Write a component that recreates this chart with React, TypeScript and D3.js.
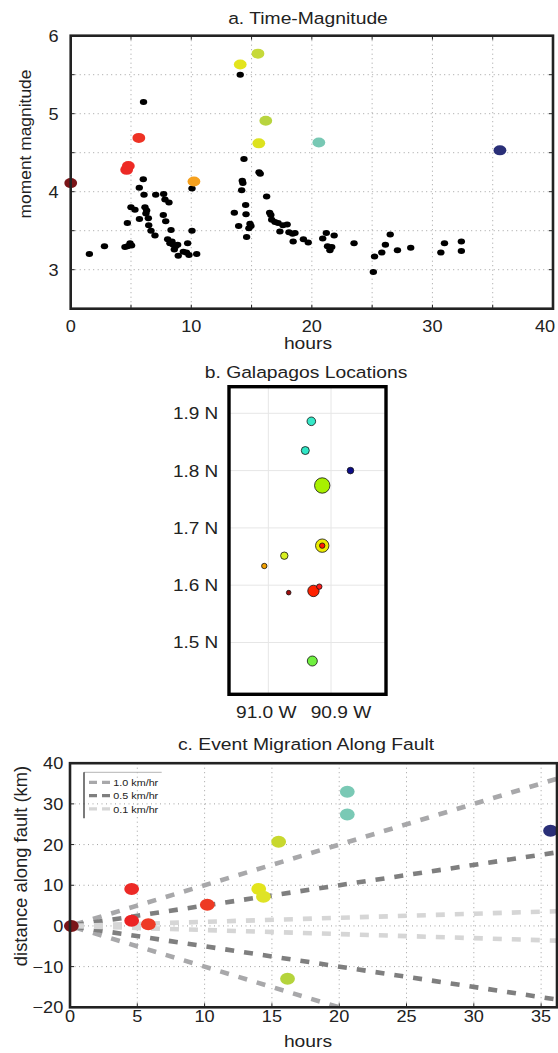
import React from 'react';
import * as d3 from 'd3';

// ---------- Panel a: time vs moment magnitude ----------
const smallEvents: [number, number][] = [
  [1.55, 3.2], [2.8, 3.3], [4.5, 3.29], [4.72, 3.3], [4.92, 3.34], [5.05, 3.31], [4.7, 3.6], [5.0, 3.8],
  [5.33, 3.77], [5.7, 3.65], [5.69, 4.05], [6.02, 4.16], [6.08, 3.96], [6.16, 3.8], [6.24, 3.72], [6.3, 3.76],
  [6.44, 3.66], [6.47, 3.57], [6.66, 3.5], [6.99, 3.44], [7.05, 3.96], [7.68, 3.7], [7.71, 3.97], [7.82, 3.9],
  [7.88, 3.62], [8.15, 3.86], [8.32, 3.51], [8.04, 3.39], [8.23, 3.34], [8.4, 3.36], [8.5, 3.32], [8.59, 3.26],
  [8.7, 3.3], [8.87, 3.32], [8.92, 3.18], [9.34, 3.23], [9.6, 3.22], [9.7, 3.34], [9.81, 3.19], [10.06, 3.5],
  [10.06, 4.04], [10.45, 3.2], [6.04, 5.15],
  [13.57, 3.73], [13.93, 3.56], [14.06, 5.5], [14.18, 4.02], [14.23, 4.14], [14.28, 4.11], [14.37, 4.42],
  [14.51, 3.83], [14.54, 3.71], [14.59, 3.42], [14.78, 3.53], [14.87, 3.59], [14.95, 3.56], [15.62, 4.25],
  [15.72, 4.23], [16.25, 3.94], [16.5, 3.73], [16.6, 3.7], [16.67, 3.64], [16.94, 3.61], [17.2, 3.6],
  [17.35, 3.49], [17.6, 3.57], [17.95, 3.58], [18.1, 3.48], [18.4, 3.46], [18.6, 3.47], [18.45, 3.36],
  [19.3, 3.39], [19.7, 3.35], [20.9, 3.4], [21.2, 3.47], [21.3, 3.3], [21.5, 3.25], [21.65, 3.29], [21.85, 3.44],
  [23.5, 3.34], [25.1, 2.97], [25.2, 3.17], [25.8, 3.22], [26.1, 3.32], [26.5, 3.45], [27.1, 3.25], [28.2, 3.28],
  [30.7, 3.22], [31.0, 3.34], [32.4, 3.36], [32.4, 3.24],
];
const largeEventHours = [0.0, 4.64, 4.78, 5.65, 10.22, 14.06, 15.53, 16.18, 15.6, 20.58, 35.6];
const largeEventMags = [4.11, 4.28, 4.33, 4.69, 4.13, 5.63, 5.77, 4.91, 4.62, 4.63, 4.53];
const largeEventColors = ['#7a1518', '#ec2a26', '#ee2a24', '#ee3224', '#f6a11e', '#e3e41c', '#c6d93a', '#b8d43f', '#dde21f', '#78c8b4', '#2a2f78'];
const hourTicksA = [0, 10, 20, 30, 40];
const magTicks = [3, 4, 5, 6];

// ---------- Panel b: locations ----------
const locLonW = [90.9314, 90.941, 90.869, 90.914, 90.914, 90.914, 90.9745, 91.0064, 90.9675, 90.928, 90.9187, 90.9298];
const locLat = [1.886, 1.835, 1.8, 1.774, 1.669, 1.669, 1.6515, 1.6335, 1.587, 1.59, 1.5975, 1.4677];
const locColors = ['#35e8c8', '#30e6c6', '#0c0c88', '#a8f000', '#ecec00', '#ff1a00', '#d8f020', '#f2a000', '#a00c0c', '#ff2200', '#ff1a1a', '#70f040'];
const locRadius = [4.3, 4.0, 3.3, 7.7, 6.7, 2.7, 3.7, 2.7, 2.3, 5.7, 2.7, 5.0];
const latTicks = [1.5, 1.6, 1.7, 1.8, 1.9];
const lonTicks = [91.0, 90.9];
const lonLabelShift = [-2, 10];

// ---------- Panel c: migration ----------
const migHours = [0.1, 4.58, 4.58, 5.82, 10.2, 14.02, 14.37, 15.5, 16.16, 20.6, 20.6, 35.7];
const migDist = [0, 9.1, 1.3, 0.4, 5.2, 9.1, 7.2, 20.7, -13.0, 33.0, 27.4, 23.4];
const migColors = ['#7a1518', '#ec2a26', '#ec2223', '#ee3a24', '#ee3a24', '#e3e41c', '#dfe326', '#c8d82e', '#b5d43c', '#7ac9b5', '#7ac9b5', '#2a2f78'];
const rates = [1.0, 0.5, 0.1];
const rateLabels = ['1.0 km/hr', '0.5 km/hr', '0.1 km/hr'];
const rateColors = ['#a8a8aa', '#7f7f7f', '#d6d6d6'];
const hourTicksC = [0, 5, 10, 15, 20, 25, 30, 35];
const distTicks = [-20, -10, 0, 10, 20, 30, 40];

const FONT = '"Liberation Sans", Arial, Helvetica, sans-serif';
const INK = '#222';

type TProps = { x: number; y: number; sx?: number; anchor?: string; size?: number; children: React.ReactNode };
const T = ({ x, y, sx = 1.1, anchor = 'middle', size = 16.5, children }: TProps) => (
  <g transform={`translate(${x},${y}) scale(${sx},1)`}>
    <text textAnchor={anchor as any} fontSize={size} fontFamily={FONT} fill={INK}>{children}</text>
  </g>
);

export default function App() {
  // panel a scales
  const xA = d3.scaleLinear().domain([0, 40]).range([70.7, 553]);
  const yA = d3.scaleLinear().domain([2.5, 6]).range([308.7, 35.7]);
  // panel b scales
  const xB = d3.scaleLinear().domain([91.0627, 90.8123]).range([229, 386]);
  const yB = d3.scaleLinear().domain([1.4096, 1.9464]).range([694.3, 386.7]);
  // panel c scales
  const xC = d3.scaleLinear().domain([0, 36.18]).range([70, 557]);
  const yC = d3.scaleLinear().domain([-20, 40]).range([1007.3, 763.2]);

  const gridA_x = d3.range(5, 40, 5);
  const gridA_y = d3.range(3, 6, 0.5);
  const gridC_x = d3.range(5, 36, 5);
  const gridC_y = d3.range(-10, 40, 10);

  const line = d3.line<[number, number]>().x(d => xC(d[0])).y(d => yC(d[1]));

  return (
    <svg width={558} height={1053} style={{ position: 'absolute', left: 0, top: 0, background: '#fff' }}>
      <defs>
        <clipPath id="clipC">
          <rect x={xC(0)} y={yC(40)} width={xC(36.18) - xC(0)} height={yC(-20) - yC(40)} />
        </clipPath>
      </defs>
      <rect width={558} height={1053} fill="#fff" />

      {/* ================= Panel a ================= */}
      <T x={308} y={24} sx={1.17}>a. Time-Magnitude</T>
      <g>
        {gridA_x.map(h => (
          <line key={'ax' + h} x1={xA(h)} x2={xA(h)} y1={yA(6)} y2={yA(2.5)} stroke="#8a8a8a" strokeWidth={0.8} strokeDasharray="1 3.5" />
        ))}
        {gridA_y.map(m => (
          <line key={'ay' + m} x1={xA(0)} x2={xA(40)} y1={yA(m)} y2={yA(m)} stroke="#8a8a8a" strokeWidth={0.8} strokeDasharray="1 3.5" />
        ))}
        {gridA_y.map(m => (
          <g key={'at' + m}>
            <line x1={xA(0)} x2={xA(0) + 4} y1={yA(m)} y2={yA(m)} stroke={INK} strokeWidth={1} />
            <line x1={xA(40)} x2={xA(40) - 4} y1={yA(m)} y2={yA(m)} stroke={INK} strokeWidth={1} />
          </g>
        ))}
        {gridA_x.map(h => (
          <g key={'atx' + h}>
            <line x1={xA(h)} x2={xA(h)} y1={yA(2.5)} y2={yA(2.5) - 4} stroke={INK} strokeWidth={1} />
            <line x1={xA(h)} x2={xA(h)} y1={yA(6)} y2={yA(6) + 4} stroke={INK} strokeWidth={1} />
          </g>
        ))}
        {smallEvents.map((d, i) => (
          <ellipse key={'s' + i} cx={xA(d[0])} cy={yA(d[1])} rx={3.7} ry={3.0} fill="#000" />
        ))}
        {largeEventHours.map((h, i) => (
          <ellipse key={'l' + i} cx={xA(h)} cy={yA(largeEventMags[i])} rx={6.4} ry={5.0} fill={largeEventColors[i]} />
        ))}
        <rect x={xA(0)} y={yA(6)} width={xA(40) - xA(0)} height={yA(2.5) - yA(6)} fill="none" stroke={INK} strokeWidth={2.6} />
        {magTicks.map(m => (
          <T key={'am' + m} x={58.5} y={yA(m) + 6} anchor="end">{m}</T>
        ))}
        {hourTicksA.map(h => (
          <T key={'ah' + h} x={Math.min(xA(h), 545)} y={331.5}>{h}</T>
        ))}
        <T x={308} y={349} sx={1.17}>hours</T>
        <text transform="translate(31,144) rotate(-90)" textAnchor="middle" fontSize={17.4} fontFamily={FONT} fill={INK}>moment magnitude</text>
      </g>

      {/* ================= Panel b ================= */}
      <T x={306} y={378.3} sx={1.17}>b. Galapagos Locations</T>
      <g>
        <rect x={229} y={386.7} width={157} height={307.6} fill="#fff" />
        {latTicks.map(l => (
          <line key={'bl' + l} x1={229} x2={386} y1={yB(l)} y2={yB(l)} stroke="#e6e6e6" strokeWidth={1} />
        ))}
        {lonTicks.map(l => (
          <line key={'bo' + l} x1={xB(l)} x2={xB(l)} y1={386.7} y2={694.3} stroke="#e6e6e6" strokeWidth={1} />
        ))}
        {locLonW.map((lon, i) => (
          <circle key={'c' + i} cx={xB(lon)} cy={yB(locLat[i])} r={locRadius[i]} fill={locColors[i]} stroke="#111" strokeWidth={0.8} />
        ))}
        <rect x={229} y={386.7} width={157} height={307.6} fill="none" stroke="#000" strokeWidth={3.4} />
        {latTicks.map(l => (
          <T key={'blt' + l} x={218.3} y={yB(l) + 6} anchor="end" sx={1.15}>{l.toFixed(1) + ' N'}</T>
        ))}
        {lonTicks.map((l, i) => (
          <T key={'bot' + l} x={xB(l) + lonLabelShift[i]} y={717.5} sx={1.16}>{l.toFixed(1) + ' W'}</T>
        ))}
      </g>

      {/* ================= Panel c ================= */}
      <T x={306} y={750} sx={1.17}>c. Event Migration Along Fault</T>
      <g>
        {gridC_x.map(h => (
          <line key={'cx' + h} x1={xC(h)} x2={xC(h)} y1={yC(40)} y2={yC(-20)} stroke="#8a8a8a" strokeWidth={0.8} strokeDasharray="1 3.5" />
        ))}
        {gridC_y.map(d => (
          <line key={'cy' + d} x1={xC(0)} x2={xC(36.18)} y1={yC(d)} y2={yC(d)} stroke="#8a8a8a" strokeWidth={0.8} strokeDasharray="1 3.5" />
        ))}
        {gridC_y.map(d => (
          <line key={'ct' + d} x1={xC(0)} x2={xC(0) + 4} y1={yC(d)} y2={yC(d)} stroke={INK} strokeWidth={1} />
        ))}
        {gridC_x.map(h => (
          <line key={'ctx' + h} x1={xC(h)} x2={xC(h)} y1={yC(-20)} y2={yC(-20) - 4} stroke={INK} strokeWidth={1} />
        ))}
        <g clipPath="url(#clipC)">
          {rates.map((r, i) =>
            [1, -1].map(s => (
              <path key={'r' + i + s} d={line([[0, 0], [36.18, s * r * 36.18]]) || ''} fill="none" stroke={rateColors[i]} strokeWidth={4.6} strokeDasharray="9 10" strokeDashoffset={-5} />
            ))
          )}
        </g>
        {migHours.map((h, i) => (
          <ellipse key={'m' + i} cx={xC(h)} cy={yC(migDist[i])} rx={7.4} ry={6.0} fill={migColors[i]} />
        ))}
        <rect x={xC(0)} y={yC(40)} width={xC(36.18) - xC(0)} height={yC(-20) - yC(40)} fill="none" stroke={INK} strokeWidth={2.6} />
        {/* legend */}
        <line x1={84} x2={161.7} y1={772.3} y2={772.3} stroke="#b5b5b5" strokeWidth={1} />
        <line x1={84} x2={84} y1={772.3} y2={818.3} stroke={INK} strokeWidth={1.2} />
        {rateLabels.map((lab, i) => (
          <g key={'lg' + i}>
            <line x1={89} x2={110} y1={782.3 + i * 13.3} y2={782.3 + i * 13.3} stroke={rateColors[i]} strokeWidth={3.3} strokeDasharray="8 5" />
            <T x={113.3} y={782.3 + i * 13.3 + 3.6} anchor="start" size={9.8} sx={1.1}>{lab}</T>
          </g>
        ))}
        {distTicks.map(d => (
          <T key={'cdt' + d} x={63.3} y={yC(d) + 6} anchor="end">{d < 0 ? '\u2212' + Math.abs(d) : String(d)}</T>
        ))}
        {hourTicksC.map(h => (
          <T key={'cht' + h} x={xC(h)} y={1022}>{h}</T>
        ))}
        <T x={308} y={1046.7} sx={1.17}>hours</T>
        <text transform="translate(27,866) rotate(-90)" textAnchor="middle" fontSize={18.4} fontFamily={FONT} fill={INK}>distance along fault (km)</text>
      </g>
    </svg>
  );
}
